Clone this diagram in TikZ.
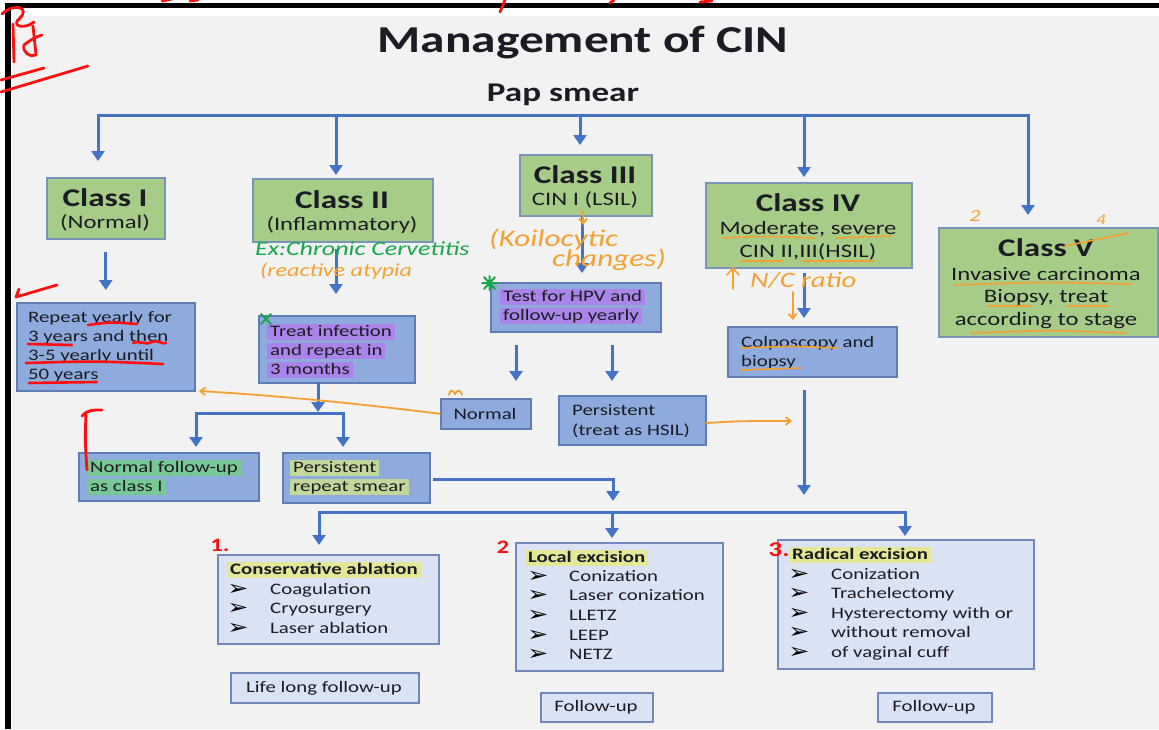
\documentclass[tikz,border=0pt]{standalone}
\usepackage{fontspec}
\setmainfont{Carlito}[FakeStretch=1.3]
\newfontfamily\symf{DejaVu Sans}[FakeStretch=1.2]
\newfontfamily\handf{Carlito}[FakeStretch=1.3]
\usetikzlibrary{arrows.meta,calc}
\definecolor{bgc}{HTML}{F2F2F2}
\definecolor{gfill}{HTML}{A6CC88}
\definecolor{gborder}{HTML}{7A93B8}
\definecolor{bfill}{HTML}{8FAADC}
\definecolor{bborder}{HTML}{5E7DB5}
\definecolor{lfill}{HTML}{DAE3F3}
\definecolor{lborder}{HTML}{7088BB}
\definecolor{arrowblue}{HTML}{4472C4}
\definecolor{txtc}{HTML}{1C1C24}
\definecolor{hpurple}{HTML}{AA84EA}
\definecolor{hgreen}{HTML}{78C896}
\definecolor{holive}{HTML}{C3D79B}
\definecolor{hyellow}{HTML}{E3E796}
\definecolor{orng}{HTML}{F5A031}
\definecolor{hgrn}{HTML}{18A84A}
\definecolor{redp}{HTML}{FF1010}
\newcommand\ftitle{\fontsize{38}{44}\selectfont\bfseries}
\newcommand\fpap{\fontsize{27}{32}\selectfont\bfseries}
\newcommand\fcls{\fontsize{25.5}{30}\selectfont\bfseries}
\newcommand\fsub{\fontsize{19}{22}\selectfont}
\newcommand\fbody{\fontsize{16}{19}\selectfont}
\newcommand\fhead{\fontsize{16}{19}\selectfont\bfseries}
\newcommand\fhand{\handf\itshape\fontsize{20}{24}\selectfont}
\newcommand\mybox[6]{\node[#2,anchor=north west,inner sep=0pt,minimum width={(#5-#3)*1pt},minimum height={(#6-#4)*1pt}] (#1) at (#3,#4) {};}
\tikzset{
  greenbox/.style={draw=gborder,fill=gfill,line width=1.6pt},
  bluebox/.style={draw=bborder,fill=bfill,line width=1.6pt},
  lightbox/.style={draw=lborder,fill=lfill,line width=1.6pt},
  arr/.style={draw=arrowblue,line width=3pt,-{Triangle[width=13pt,length=10pt]}},
  ln/.style={draw=arrowblue,line width=3pt,line cap=rect},
  txt/.style={inner sep=0pt,text=txtc,anchor=base},
  ltxt/.style={inner sep=0pt,text=txtc,anchor=base west},
  hl/.style={inner xsep=3pt,inner ysep=0pt,text height=12pt,text depth=4pt,text=txtc,anchor=base west,fill=#1},
  bul/.style={inner sep=0pt,text=black,anchor=base,font=\symf\fontsize{21}{22}\selectfont},
  ounder/.style={draw=orng,line width=1.6pt,line cap=round},
  runder/.style={draw=redp,line width=2.6pt,line cap=round},
  oarr/.style={draw=orng,line width=1.8pt,line cap=round,-{Straight Barb[length=5pt,width=8pt]}},
  redstroke/.style={draw=redp,line width=2.8pt,line cap=round,line join=round},
}
\begin{document}
\begin{tikzpicture}[x=1pt,y=-1pt]
\useasboundingbox (0,0) rectangle (1159,729);
\fill[white] (0,0) rectangle (1159,729);
\fill[bgc] (12,16) rectangle (1159,729);
\draw[black,line width=5pt] (5,5.5) -- (1159,5.5);
\draw[black,line width=6pt] (8,3) -- (8,729);

% titles
\node[txt,font=\ftitle] (title) at (583,52) {Management of CIN};
\node[txt,font=\fpap] (pap) at (563,101) {Pap smear};

% class boxes
\mybox{c1}{greenbox}{46}{177}{164}{238}
\mybox{c2}{greenbox}{252}{178}{432}{241}
\mybox{c3}{greenbox}{519}{154}{651}{215}
\mybox{c4}{greenbox}{705}{182}{911}{267}
\mybox{c5}{greenbox}{938}{227}{1157}{336}
\node[txt,font=\fcls] (c1a) at (105,206) {Class I};
\node[txt,font=\fsub] (c1b) at (105,228) {(Normal)};
\node[txt,font=\fcls] (c2a) at (342,208) {Class II};
\node[txt,font=\fsub] (c2b) at (342,230) {(Inflammatory)};
\node[txt,font=\fcls] (c3a) at (585,183) {Class III};
\node[txt,font=\fsub] (c3b) at (585,205) {CIN I (LSIL)};
\node[txt,font=\fcls] (c4a) at (808,211) {Class IV};
\node[txt,font=\fsub] (c4b) at (808,234) {Moderate, severe};
\node[txt,font=\fsub] (c4c) at (808,257) {CIN II,III(HSIL)};
\node[txt,font=\fcls] (c5a) at (1046,256) {Class V};
\node[txt,font=\fsub] (c5b) at (1046,280) {Invasive carcinoma};
\node[txt,font=\fsub] (c5c) at (1046,302) {Biopsy, treat};
\node[txt,font=\fsub] (c5d) at (1046,325) {according to stage};

% blue boxes
\mybox{rep}{bluebox}{16}{302}{194}{390}
\mybox{treat}{bluebox}{258}{315}{414}{382}
\mybox{hpv}{bluebox}{490}{282}{660}{331}
\mybox{colpo}{bluebox}{727}{326}{896}{376}
\mybox{norm}{bluebox}{440}{398}{530}{428}
\mybox{pers}{bluebox}{558}{395}{705}{444}
\mybox{nfu}{bluebox}{78}{452}{258}{500}
\mybox{prs}{bluebox}{282}{452}{429}{502}

\node[ltxt,font=\fbody] (r1) at (28,322) {Repeat yearly for};
\node[ltxt,font=\fbody] (r2) at (28,341) {3 years and then};
\node[ltxt,font=\fbody] (r3) at (28,360) {3-5 yearly until};
\node[ltxt,font=\fbody] (r4) at (28,379) {50 years};
\node[hl=hpurple,font=\fbody] (t1) at (267,336) {Treat infection};
\node[hl=hpurple,font=\fbody] (t2) at (267,355) {and repeat in};
\node[hl=hpurple,font=\fbody] (t3) at (267,374) {3 months};
\node[hl=hpurple,font=\fbody] (h1) at (500,301) {Test for HPV and};
\node[hl=hpurple,font=\fbody] (h2) at (500,320) {follow-up yearly};
\node[ltxt,font=\fbody] (k1) at (741,347) {Colposcopy and};
\node[ltxt,font=\fbody] (k2) at (741,366) {biopsy};
\node[txt,font=\fbody] (nm) at (485,419) {Normal};
\node[ltxt,font=\fbody] (p1) at (572,415) {Persistent};
\node[ltxt,font=\fbody] (p2) at (572,435) {(treat as HSIL)};
\node[hl=hgreen,font=\fbody] (n1) at (87,472) {Normal follow-up};
\node[hl=hgreen,font=\fbody] (n2) at (87,491) {as class I};
\node[hl=holive,font=\fbody] (s1) at (290,472) {Persistent};
\node[hl=holive,font=\fbody] (s2) at (290,491) {repeat smear};

% bottom boxes
\mybox{cons}{lightbox}{217}{554}{438}{643}
\mybox{loc}{lightbox}{515}{542}{722}{670}
\mybox{rad}{lightbox}{777}{539}{1033}{668}
\mybox{life}{lightbox}{230}{672}{418}{702}
\mybox{fu1}{lightbox}{540}{692}{652}{721}
\mybox{fu2}{lightbox}{877}{692}{991}{721}

\node[hl=hyellow,font=\fhead] (ca) at (227,574) {Conservative ablation};
\node[bul] (cb1) at (238,595) {➢};
\node[bul] (cb2) at (238,614) {➢};
\node[bul] (cb3) at (238,634) {➢};
\node[ltxt,font=\fbody] (ci1) at (270,594) {Coagulation};
\node[ltxt,font=\fbody] (ci2) at (270,613) {Cryosurgery};
\node[ltxt,font=\fbody] (ci3) at (270,633) {Laser ablation};

\node[hl=hyellow,font=\fhead] (la) at (525,562) {Local excision};
\node[bul] (lb1) at (538,582) {➢};
\node[bul] (lb2) at (538,601) {➢};
\node[bul] (lb3) at (538,621) {➢};
\node[bul] (lb4) at (538,641) {➢};
\node[bul] (lb5) at (538,660) {➢};
\node[ltxt,font=\fbody] (li1) at (569,581) {Conization};
\node[ltxt,font=\fbody] (li2) at (569,600) {Laser conization};
\node[ltxt,font=\fbody] (li3) at (569,620) {LLETZ};
\node[ltxt,font=\fbody] (li4) at (569,640) {LEEP};
\node[ltxt,font=\fbody] (li5) at (569,659) {NETZ};

\node[hl=hyellow,font=\fhead] (ra) at (789,559) {Radical excision};
\node[bul] (rb1) at (799,580) {➢};
\node[bul] (rb2) at (799,599) {➢};
\node[bul] (rb3) at (799,619) {➢};
\node[bul] (rb4) at (799,638) {➢};
\node[bul] (rb5) at (799,658) {➢};
\node[ltxt,font=\fbody] (ri1) at (831,579) {Conization};
\node[ltxt,font=\fbody] (ri2) at (831,598) {Trachelectomy};
\node[ltxt,font=\fbody] (ri3) at (831,618) {Hysterectomy with or};
\node[ltxt,font=\fbody] (ri4) at (831,637) {without removal};
\node[ltxt,font=\fbody] (ri5) at (831,657) {of vaginal cuff};

\node[txt,font=\fbody] (lifet) at (324,692) {Life long follow-up};
\node[txt,font=\fbody] (fu1t) at (596,711) {Follow-up};
\node[txt,font=\fbody] (fu2t) at (934,711) {Follow-up};

% connectors: top bar
\coordinate (d1) at (98,115);
\coordinate (d2) at (336,115);
\coordinate (d3) at (580,115);
\coordinate (d4) at (804,115);
\coordinate (d5) at (1028,115);
\draw[ln] (d1) -- (d5);
\draw[arr,shorten >=16pt] (d1) -- (d1 |- c1.north);
\draw[arr,shorten >=3pt] (d2) -- (d2 |- c2.north);
\draw[arr,shorten >=9pt] (d3) -- (d3 |- c3.north);
\draw[arr,shorten >=5pt] (d4) -- (d4 |- c4.north);
\draw[arr,shorten >=12pt] (d5) -- (d5 |- c5.north);

% class to action
\draw[arr,shorten <=12pt,shorten >=12pt] (c1.south) -- (c1.south |- rep.north);
\coordinate (e2) at (336,241);
\draw[arr,shorten <=8pt,shorten >=21pt] (e2) -- (e2 |- treat.north);
\coordinate (e3) at (582,216);
\draw[arr,shorten >=9pt] (e3) -- (e3 |- hpv.north);
\coordinate (e4) at (804,267);
\draw[arr,shorten <=6pt,shorten >=8pt] (e4) -- (e4 |- colpo.north);

% HPV outcomes
\coordinate (f1) at (516,331);
\coordinate (f2) at (612,331);
\draw[arr,shorten <=14pt,shorten >=17pt] (f1) -- (f1 |- norm.north);
\draw[arr,shorten <=14pt,shorten >=14pt] (f2) -- (f2 |- pers.north);

% colposcopy down
\coordinate (g1) at (804,376);
\coordinate (g2) at (804,495);
\draw[arr,shorten <=14pt] (g1) -- (g2);

% treat split
\coordinate (ts) at (318,382);
\coordinate (tsp) at (318,412);
\coordinate (sl) at (196,413);
\coordinate (sr) at (343,413);
\draw[arr] (ts) -- (tsp);
\draw[ln] (sl) -- (sr);
\draw[arr,shorten >=5pt] (sl) -- (sl |- nfu.north);
\draw[arr,shorten >=5pt] (sr) -- (sr |- prs.north);

% persistent repeat smear to treatment bar
\coordinate (pr1) at (433,479);
\coordinate (pr2) at (613,479);
\coordinate (pr3) at (613,501);
\draw[arr] (pr1) -- (pr2) -- (pr3);

% treatment bar
\coordinate (q1) at (319,512);
\coordinate (q2) at (612,512);
\coordinate (q3) at (905,512);
\draw[ln] (q1) -- (q3);
\draw[arr,shorten >=9pt] (q1) -- (q1 |- cons.north);
\draw[arr,shorten >=4pt] (q2) -- (q2 |- loc.north);
\draw[arr,shorten >=3pt] (q3) -- (q3 |- rad.north);

% ---- handwritten annotations ----
% orange arrows
\draw[oarr] (norm.west) .. controls (330,400) and (250,394) .. (199,391);
\draw[oarr] (pers.east |- 0,423) .. controls (740,421) .. (792,421);
\draw[oarr] (583,211) -- (583,225);
\draw[oarr] (793,292) .. controls (792,305) .. (793,320);
% orange text
\node[anchor=base west,inner sep=0pt,text=orng,font=\fhand\fontsize{24}{28}\selectfont] (kc1) at (489,246) {(Koilocytic};
\node[anchor=base west,inner sep=0pt,text=orng,font=\fhand\fontsize{24}{28}\selectfont] (kc2) at (552,266) {changes)};
\node[anchor=base west,inner sep=0pt,text=hgrn,font=\fhand\fontsize{20}{24}\selectfont] (exc) at (255,255) {Ex:Chronic Cervetitis};
\node[anchor=base west,inner sep=0pt,text=orng,font=\fhand\fontsize{18.5}{22}\selectfont] (rat) at (260,276) {(reactive atypia};
\draw[orng,line width=1.6pt,line cap=round] (733,289) -- (733,268) (727,275) -- (733,268) -- (739,275);
\node[anchor=base west,inner sep=0pt,text=orng,font=\fhand\fontsize{22}{26}\selectfont] (ncr) at (750,287) {N/C ratio};
\node[anchor=base,inner sep=0pt,text=orng,font=\fhand\fontsize{17}{20}\selectfont] (o2) at (975,221) {2};
\node[anchor=base,inner sep=0pt,text=orng,font=\fhand\fontsize{15}{18}\selectfont] (o4) at (1101,224) {4};
\draw[ounder] (1065,246) -- (1128,233);
\draw[orng,line width=1.8pt,line cap=round] (449,395) .. controls (450,389) and (453,390) .. (455,394) .. controls (457,389) and (461,390) .. (462,395);
% orange underlines
\draw[ounder] (722,238) .. controls (765,236) .. (815,238);
\draw[ounder] (836,238) -- (891,236);
\draw[ounder] (741,261) -- (783,261);
\draw[ounder] (803,261) -- (874,261);
\draw[ounder] (955,285) .. controls (1040,282) .. (1131,284);
\draw[ounder] (988,306) -- (1031,306);
\draw[ounder] (1067,306) -- (1108,306);
\draw[ounder] (972,333) .. controls (1050,330) .. (1126,333);
\draw[ounder] (741,348) .. controls (790,346) .. (838,348);
\draw[ounder] (741,370) -- (800,368);
% red underlines in repeat box
\draw[runder] (88,325) .. controls (110,322) .. (137,324);
\draw[runder] (28,344) -- (72,345);
\draw[runder] (133,343) .. controls (140,340) and (146,346) .. (152,342) .. controls (158,339) and (162,345) .. (166,343);
\draw[runder] (26,363) .. controls (95,361) .. (163,364);
\draw[runder] (29,383) -- (97,382);
% red marks
\draw[redstroke] (57,285) -- (16,297) -- (19,289);
\draw[redstroke] (87,470) .. controls (85,440) .. (86,413) (82,416) .. controls (88,409) and (95,410) .. (102,410);
\node[anchor=base,inner sep=0pt,text=redp,font=\handf\bfseries\fontsize{19}{22}\selectfont] (m1) at (220,551) {1.};
\node[anchor=base,inner sep=0pt,text=redp,font=\handf\bfseries\fontsize{19}{22}\selectfont] (m2) at (503,553) {2};
\node[anchor=base,inner sep=0pt,text=redp,font=\handf\bfseries\fontsize{21}{24}\selectfont] (m3) at (779,556) {3.};
% red scribble top left
\draw[redstroke] (2,14) .. controls (15,2) and (30,8) .. (20,18) .. controls (10,26) and (24,30) .. (34,22);
\draw[redstroke] (13,24) -- (14,62);
\draw[redstroke] (33,26) .. controls (35,40) .. (36,55) .. controls (30,58) and (22,52) .. (24,45) .. controls (30,40) and (38,36) .. (42,35);
\draw[redstroke] (1,80) -- (44,68);
\draw[redstroke] (1,92) -- (88,66);
\draw[redstroke] (162,1) -- (172,-1);
\draw[redstroke] (190,1) -- (198,0);
\draw[redstroke] (500,12) -- (505,0);
\draw[redstroke] (610,3) -- (614,0);
\draw[redstroke] (700,2) -- (712,1);
% green marks
\draw[hgrn,line width=2pt,line cap=round] (261,314) -- (271,324) (271,314) -- (261,324);
\draw[hgrn,line width=2pt,line cap=round] (482,283) -- (497,283) (484,277) -- (495,289) (495,277) -- (484,289) (489.5,276) -- (489.5,290);
\end{tikzpicture}
\end{document}
